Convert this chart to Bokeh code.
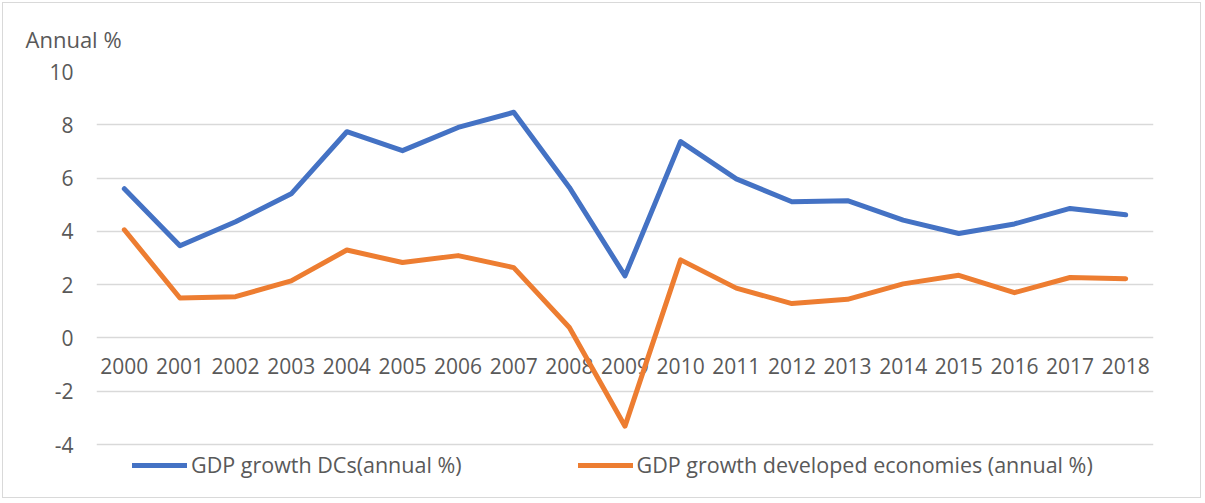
from bokeh.plotting import figure
from bokeh.models import Range1d, FixedTicker, Legend, LegendItem, ColumnDataSource
from bokeh.embed import file_html
from bokeh.resources import INLINE

years = [str(y) for y in range(2000, 2019)]
dcs = [5.60, 3.46, 4.36, 5.41, 7.74, 7.03, 7.90, 8.47, 5.65, 2.33,
       7.37, 5.97, 5.11, 5.15, 4.42, 3.92, 4.28, 4.86, 4.62]
developed = [4.06, 1.50, 1.55, 2.14, 3.30, 2.83, 3.09, 2.64, 0.39, -3.31,
             2.93, 1.87, 1.29, 1.45, 2.03, 2.35, 1.70, 2.27, 2.22]
y_ticks = [-4, -2, 0, 2, 4, 6, 8, 10]
series_names = ["GDP growth DCs(annual %)", "GDP growth developed economies (annual %)"]
y_title = "Annual %"

FONT = "Open Sans"
TXT = "#595959"

# frame extends below -4 (no gridline there) to hold the legend
p = figure(x_range=years, y_range=Range1d(-5.8, 10), width=1199, height=496,
           output_backend="svg", toolbar_location=None,
           min_border_left=93, min_border_right=49, min_border_top=68, min_border_bottom=7)
p.outline_line_color = None
p.styles = {"border": "1px solid #d9d9d9", "margin-left": "2px", "margin-top": "2px"}

p.title.text = y_title
p.title.align = "left"
p.title.offset = -71
p.title.standoff = 36
p.title.text_font = FONT
p.title.text_font_size = "22px"
p.title.text_font_style = "normal"
p.title.text_color = TXT

p.xgrid.grid_line_color = None
p.ygrid.grid_line_color = "#d9d9d9"
p.ygrid.grid_line_width = 1.5
p.ygrid.ticker = FixedTicker(ticks=y_ticks)

p.yaxis.ticker = FixedTicker(ticks=y_ticks)
p.yaxis.major_label_overrides = {t: str(t) for t in y_ticks}
p.yaxis.axis_line_color = None
p.yaxis.major_tick_line_color = None
p.yaxis.minor_tick_line_color = None
p.yaxis.major_tick_out = 0
p.yaxis.major_tick_in = 0
p.yaxis.major_label_standoff = 23
p.yaxis.major_label_text_font = FONT
p.yaxis.major_label_text_font_size = "21px"
p.yaxis.major_label_text_color = TXT

p.xaxis.visible = False
lab = ColumnDataSource(dict(x=years, y=[0] * len(years), t=years))
p.text(x="x", y="y", text="t", source=lab, y_offset=28, text_align="center",
       text_baseline="middle", text_font={"value": FONT}, text_font_size="21px",
       text_color=TXT)

r1 = p.line(years, dcs, line_color="#4472C4", line_width=5, line_join="round", line_cap="round")
r2 = p.line(years, developed, line_color="#ED7D31", line_width=5, line_join="round", line_cap="round")

legend = Legend(items=[LegendItem(label=series_names[0], renderers=[r1]),
                       LegendItem(label=series_names[1], renderers=[r2])],
                orientation="horizontal", location=(36, 13),
                glyph_width=55, glyph_height=20, label_standoff=4, spacing=116,
                padding=0, margin=0, border_line_alpha=0, background_fill_alpha=0,
                label_text_font=FONT, label_text_font_size="21.5px", label_text_color=TXT)
p.add_layout(legend, "center")

open("out.html", "w").write(file_html(p, INLINE))
